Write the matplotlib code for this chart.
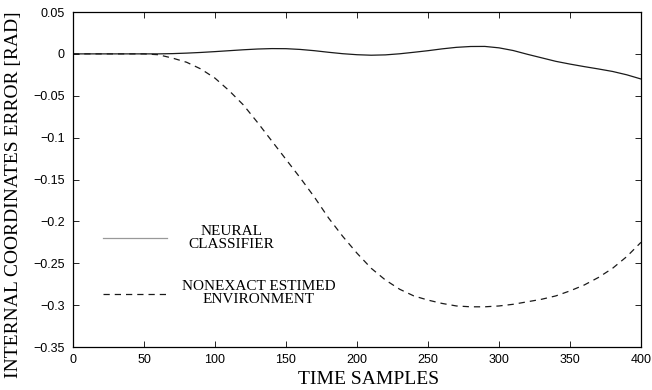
import matplotlib
matplotlib.use("Agg")
import matplotlib.pyplot as plt

samples = [0, 50, 60, 70, 80, 90, 100, 110, 120, 130, 140, 150, 160, 170, 180, 190, 200,
           210, 220, 230, 240, 250, 260, 270, 280, 290, 300, 310, 320, 330, 340, 350,
           360, 370, 380, 390, 400]
neural = [0.0, 0.0, 0.0, 0.0003, 0.0009, 0.0017, 0.0027, 0.0038, 0.0049, 0.0058, 0.0063,
          0.0062, 0.0053, 0.0038, 0.0019, 0.0002, -0.0010, -0.0016, -0.0012, 0.0001, 0.0019,
          0.0038, 0.0060, 0.0078, 0.0088, 0.0089, 0.0072, 0.0040, -0.0005, -0.0047, -0.0089,
          -0.0122, -0.0152, -0.0180, -0.0210, -0.0250, -0.0300]
nonexact = [0.0, 0.0, -0.001, -0.005, -0.010, -0.018, -0.029, -0.044, -0.061, -0.082, -0.104,
            -0.126, -0.148, -0.171, -0.196, -0.218, -0.238, -0.256, -0.270, -0.281, -0.289,
            -0.294, -0.298, -0.301, -0.302, -0.302, -0.301, -0.299, -0.296, -0.293, -0.289,
            -0.283, -0.276, -0.267, -0.256, -0.242, -0.225]

xticks = [0, 50, 100, 150, 200, 250, 300, 350, 400]
yticks = [0.05, 0, -0.05, -0.1, -0.15, -0.2, -0.25, -0.3, -0.35]
ytick_labels = ["0.05", "0", "\u22120.05", "\u22120.1", "\u22120.15", "\u22120.2", "\u22120.25", "\u22120.3", "\u22120.35"]
legend_labels = ["NEURAL\nCLASSIFIER", "NONEXACT ESTIMED\nENVIRONMENT"]

fig = plt.figure(figsize=(6.52, 3.9), dpi=100)
ax = fig.add_axes([73/652, 43/390, 568/652, 335/390])

ax.plot(samples, neural, color="#1a1a1a", lw=0.9)
ax.plot(samples, nonexact, color="#1a1a1a", lw=0.9, dashes=(5, 4))

ax.set_xlim(0, 400)
ax.set_ylim(-0.35, 0.05)
ax.set_xticks(xticks)
ax.set_xticklabels([str(t) for t in xticks], fontsize=9, family="Liberation Sans")
ax.set_yticks(yticks)
ax.set_yticklabels(ytick_labels, fontsize=9, family="Liberation Sans")
ax.tick_params(direction="in", top=True, right=True, length=4, width=0.6)
ax.tick_params(axis="x", pad=5)
ax.tick_params(axis="y", pad=6)
for s in ax.spines.values():
    s.set_linewidth(0.9)

ax.set_xlabel("TIME SAMPLES", family="Liberation Serif", fontsize=14)
ax.set_ylabel("INTERNAL COORDINATES ERROR [RAD]", family="Liberation Serif", fontsize=14)
ax.xaxis.set_label_coords(0.52, -0.072)
ax.yaxis.set_label_coords(-0.09, 0.455)

# legend drawn in the plot area as in the original
ax.plot([21, 66], [-0.2196, -0.2196], color="#999999", lw=0.9)
ax.plot([21, 66], [-0.2864, -0.2864], color="#1a1a1a", lw=0.9, dashes=(5, 4))
ax.text(111.5, -0.2200, legend_labels[0], ha="center", va="center", family="Liberation Serif",
        fontsize=11, linespacing=1.0)
ax.text(131, -0.2860, legend_labels[1], ha="center", va="center", family="Liberation Serif",
        fontsize=11, linespacing=1.0)

fig.savefig("out.png", dpi=100)
